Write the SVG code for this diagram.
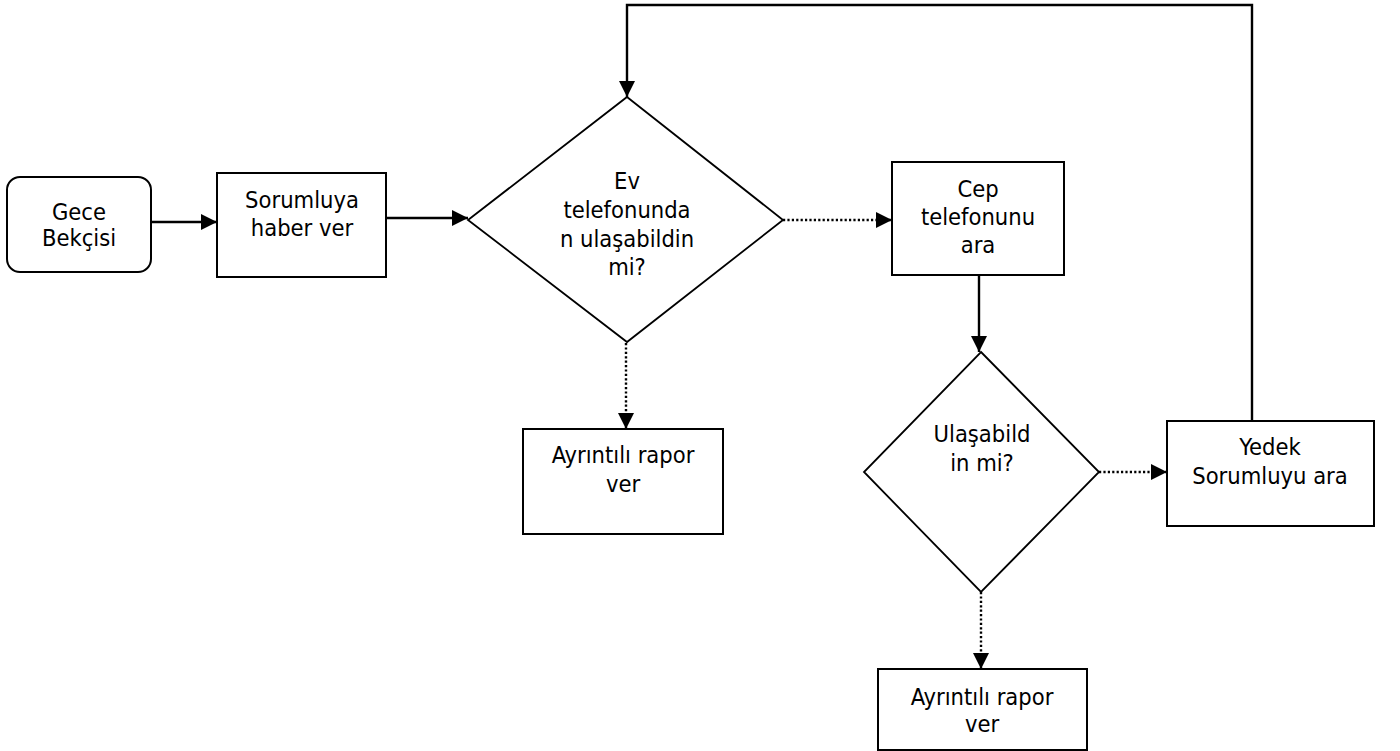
<svg xmlns="http://www.w3.org/2000/svg" width="1400" height="751" viewBox="0 0 1400 751">
<style>
.node{fill:#fff;stroke:#000;stroke-width:2}
.dia{fill:#fff;stroke:#000;stroke-width:1.8}
.lbl{font-family:"DejaVu Sans Condensed","DejaVu Sans",sans-serif;font-stretch:condensed;font-size:23.5px;fill:#000;text-anchor:middle}
.solid{fill:none;stroke:#000;stroke-width:2.4}
.dot{fill:none;stroke:#000;stroke-width:2.4;stroke-dasharray:2.2 2.2}
</style>
<defs>
<marker id="arr" markerUnits="userSpaceOnUse" markerWidth="16" markerHeight="16" refX="16" refY="8" orient="auto">
<path d="M0,0 L16,8 L0,16 z" fill="#000"/>
</marker>
</defs>
<rect width="1400" height="751" fill="#fff"/>
<g id="connectors">
<path class="solid" d="M151,222 H217" marker-end="url(#arr)"/>
<path class="solid" d="M386,218 H468" marker-end="url(#arr)"/>
<path class="dot" d="M783,220 H892" marker-end="url(#arr)"/>
<path class="solid" d="M979,275 V352" marker-end="url(#arr)"/>
<path class="dot" d="M626,343 V429" marker-end="url(#arr)"/>
<path class="dot" d="M1099,472 H1167" marker-end="url(#arr)"/>
<path class="dot" d="M981,592 V669" marker-end="url(#arr)"/>
<path class="solid" d="M1252,421 V5 H627 V97" marker-end="url(#arr)"/>
</g>
<g id="gece">
<rect class="node" x="7" y="177" width="144" height="95" rx="13"/>
<text class="lbl" x="79" y="220">Gece</text>
<text class="lbl" x="79" y="246">Bekçisi</text>
</g>
<g id="sorumluya">
<rect class="node" x="217" y="173" width="169" height="104"/>
<text class="lbl" x="302" y="208">Sorumluya</text>
<text class="lbl" x="302" y="236">haber ver</text>
</g>
<g id="ev">
<polygon class="dia" points="627,97 783,220 627,342 468,220"/>
<text class="lbl" x="627" y="189">Ev</text>
<text class="lbl" x="627" y="218">telefonunda</text>
<text class="lbl" x="627" y="247">n ulaşabildin</text>
<text class="lbl" x="627" y="275">mi?</text>
</g>
<g id="cep">
<rect class="node" x="892" y="162" width="172" height="113"/>
<text class="lbl" x="978" y="197">Cep</text>
<text class="lbl" x="978" y="225">telefonunu</text>
<text class="lbl" x="978" y="253">ara</text>
</g>
<g id="rapor1">
<rect class="node" x="523" y="429" width="200" height="105"/>
<text class="lbl" x="623" y="463">Ayrıntılı rapor</text>
<text class="lbl" x="623" y="492">ver</text>
</g>
<g id="ulas">
<polygon class="dia" points="981,352 1099,472 981,592 864,472"/>
<text class="lbl" x="982" y="442">Ulaşabild</text>
<text class="lbl" x="982" y="471">in mi?</text>
</g>
<g id="yedek">
<rect class="node" x="1167" y="421" width="207" height="105"/>
<text class="lbl" x="1270" y="455">Yedek</text>
<text class="lbl" x="1270" y="484">Sorumluyu ara</text>
</g>
<g id="rapor2">
<rect class="node" x="878" y="669" width="209" height="81"/>
<text class="lbl" x="982" y="705">Ayrıntılı rapor</text>
<text class="lbl" x="982" y="732">ver</text>
</g>
</svg>
